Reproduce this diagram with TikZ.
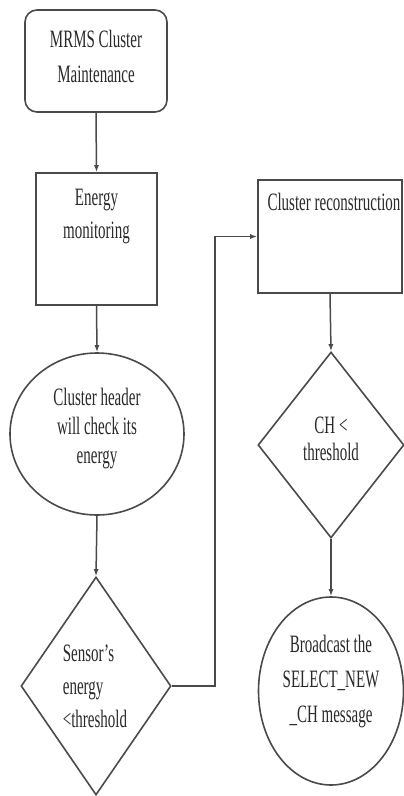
\documentclass[tikz,border=0pt]{standalone}
\usepackage{fontspec}
\usetikzlibrary{shapes.geometric,arrows.meta}
\newfontfamily\lblfont{Liberation Serif}[FakeStretch=0.6]
\definecolor{linec}{HTML}{4A4A4A}
\definecolor{textc}{HTML}{2A2A2A}
\tikzset{
  shapeline/.style={draw=linec, line width=1.6pt, fill=white, inner sep=0pt},
  roundbox/.style={shapeline, rectangle, rounded corners=12pt},
  plainbox/.style={shapeline, rectangle},
  oval/.style={shapeline, ellipse},
  decision/.style={shapeline, diamond},
  txt/.style={font=\lblfont\fontsize{25}{#1}\selectfont, align=center, inner sep=0pt, text=textc},
  txt/.default=33,
  flow/.style={draw=linec, line width=1.5pt, -{Latex[length=7pt,width=5pt]}}
}
\begin{document}
\begin{tikzpicture}[x=1pt, y=-1pt]
\useasboundingbox (0,0) rectangle (404,796);

% left column
\node[roundbox, minimum width=142pt, minimum height=102pt] (start) at (96,61) {};
\node[txt=35] (start-t) at (96,56) {MRMS Cluster\\Maintenance};

\node[plainbox, minimum width=121pt, minimum height=132pt] (em) at (96.5,239) {};
\node[txt=33] (em-t) at (96.5,216.5) {Energy\\monitoring};

\node[oval, minimum width=174pt, minimum height=162pt] (ch) at (97,434) {};
\node[txt=29] (ch-t) at (97,429) {Cluster header\\will check its\\energy};

\node[decision, minimum width=150pt, minimum height=218pt] (sd) at (96,686) {};
\node[txt=33, align=left] (sd-t) at (95,686.5) {Sensor’s\\energy\\<threshold};

% right column
\node[plainbox, minimum width=144pt, minimum height=113pt] (cr) at (330,236.5) {};
\node[txt] (cr-t) at (334,202) {Cluster reconstruction};

\node[decision, minimum width=146pt, minimum height=186pt] (cd) at (331,445) {};
\node[txt=27] (cd-t) at (331,438.5) {CH <\\threshold};

\node[oval, minimum width=145pt, minimum height=188pt] (bc) at (331,691) {};
\node[txt=35] (bc-t) at (331,682) {Broadcast the\\SELECT\_NEW\\\_CH message};

% connectors
\draw[flow] (start.south) -- (em.north);
\draw[flow] (em.south) -- (ch.north);
\draw[flow] (ch.south) -- (sd.north);
\coordinate (turn) at (215,0);
\draw[flow] (sd.east) -- (sd.east -| turn) -- (turn |- cr.west) -- (cr.west);
\draw[flow] (cr.south) -- (cd.north);
\draw[flow] (cd.south) -- (bc.north);
\end{tikzpicture}
\end{document}
